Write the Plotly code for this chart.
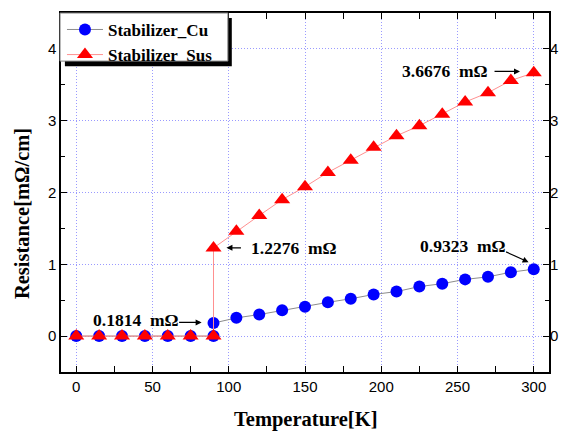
import plotly.graph_objects as go

temps = [0, 15, 30, 45, 60, 75, 90, 90, 105, 120, 135, 150, 165, 180, 195, 210, 225, 240, 255, 270, 285, 300]
cu_vals = [0, 0, 0, 0, 0, 0, 0, 0.1814, 0.254, 0.30, 0.36, 0.41, 0.47, 0.52, 0.58, 0.62, 0.69, 0.73, 0.79, 0.825, 0.89, 0.9323]
sus_vals = [0, 0, 0, 0, 0, 0, 0, 1.2276, 1.46, 1.68, 1.90, 2.08, 2.28, 2.45, 2.63, 2.79, 2.93, 3.09, 3.26, 3.39, 3.56, 3.6676]

x_ticks = [0, 50, 100, 150, 200, 250, 300]
y_ticks = [0, 1, 2, 3, 4]

SERIF = "Liberation Serif"
SANS = "Liberation Sans"
GRID = "#9a9aff"

fig = go.Figure()
fig.add_trace(go.Scatter(
    x=temps, y=cu_vals, name="Stabilizer_Cu", mode="lines+markers",
    line=dict(color="#8c8c8c", width=1),
    marker=dict(symbol="circle", size=12, color="#0000ff", line=dict(width=0)),
))
fig.add_trace(go.Scatter(
    x=temps, y=sus_vals, name="Stabilizer_Sus", mode="lines+markers",
    line=dict(color="#ff9090", width=1),
    marker=dict(symbol="triangle-up", size=14, color="#ff0000", line=dict(width=0)),
))
# invisible trace to carry the right-hand y axis labels
fig.add_trace(go.Scatter(x=[None], y=[None], yaxis="y2", showlegend=False, hoverinfo="skip"))

axis_common = dict(
    showline=True, linecolor="black", linewidth=1.5,
    ticks="inside", ticklen=6, tickwidth=1, tickcolor="black",
    tickfont=dict(family=SANS, size=15, color="black"),
    showgrid=True, gridcolor=GRID, griddash="1px,2px", gridwidth=1,
    zeroline=False, automargin=False,
)

# page body has an 8px margin; plot area placed to match the reference window
fig.update_layout(
    width=564, height=427,
    margin=dict(l=53, r=23, t=5, b=63, autoexpand=False),
    paper_bgcolor="white", plot_bgcolor="white",
    xaxis=dict(
        range=[-10, 310], tickvals=x_ticks, mirror="allticks",
        minor=dict(ticks="inside", dtick=25, tick0=0, ticklen=4, tickcolor="black", showgrid=False),
        **axis_common,
    ),
    yaxis=dict(
        range=[-0.5, 4.5], tickvals=y_ticks, mirror="allticks",
        minor=dict(ticks="inside", dtick=0.5, tick0=0, ticklen=4, tickcolor="black", showgrid=False),
        **axis_common,
    ),
    yaxis2=dict(
        range=[-0.5, 4.5], tickvals=y_ticks, overlaying="y", side="right",
        showline=False, ticks="", showgrid=False, zeroline=False, automargin=False,
        tickfont=dict(family=SANS, size=15, color="black"),
    ),
    legend=dict(
        x=0.002, y=1.003, xanchor="left", yanchor="top",
        bgcolor="rgba(0,0,0,0)", borderwidth=0,
        font=dict(family=SERIF, size=17, color="black", weight="bold"),
        tracegroupgap=0, itemwidth=36,
    ),
    showlegend=True,
)

title_font = dict(family=SERIF, size=20.5, color="black", weight="bold")
fig.add_annotation(xref="paper", yref="paper", x=0.5, y=-0.131, text="Temperature[K]",
                   showarrow=False, font=title_font, xanchor="center", yanchor="middle")
fig.add_annotation(xref="paper", yref="paper", x=-0.0799, y=0.44, text="Resistance[mΩ/cm]",
                   showarrow=False, font=title_font, textangle=-90, xanchor="center", yanchor="middle")

# legend box with shadow
fig.add_shape(type="rect", xref="paper", yref="paper",
              x0=0.008, x1=0.350, y0=0.852, y1=0.986,
              fillcolor="black", line=dict(width=0), layer="above")
fig.add_shape(type="rect", xref="paper", yref="paper",
              x0=-0.002, x1=0.342, y0=0.866, y1=1.0,
              fillcolor="white", line=dict(width=1, color="#808080"), layer="above")

ann_font = dict(family=SERIF, size=17.5, color="black", weight="bold")
labels = [
    ("0.1814  mΩ", 38.8, 0.22),
    ("1.2276  mΩ", 142.5, 1.23),
    ("0.9323  mΩ", 253, 1.25),
    ("3.6676  mΩ", 241.7, 3.69),
]
for txt, lx, ly in labels:
    fig.add_annotation(x=lx, y=ly, text=txt, showarrow=False, font=ann_font)

arrows = [
    (82.2, 0.19, -24, 0),
    (98.5, 1.229, 16, 0),
    (296.6, 1.029, -24, -11),
    (291.0, 3.686, -27, 0),
]
for hx, hy, axo, ayo in arrows:
    fig.add_annotation(x=hx, y=hy, ax=axo, ay=ayo, text="", showarrow=True,
                       arrowhead=2, arrowsize=1, arrowwidth=1.2, arrowcolor="black")

fig.write_html("out.html")
